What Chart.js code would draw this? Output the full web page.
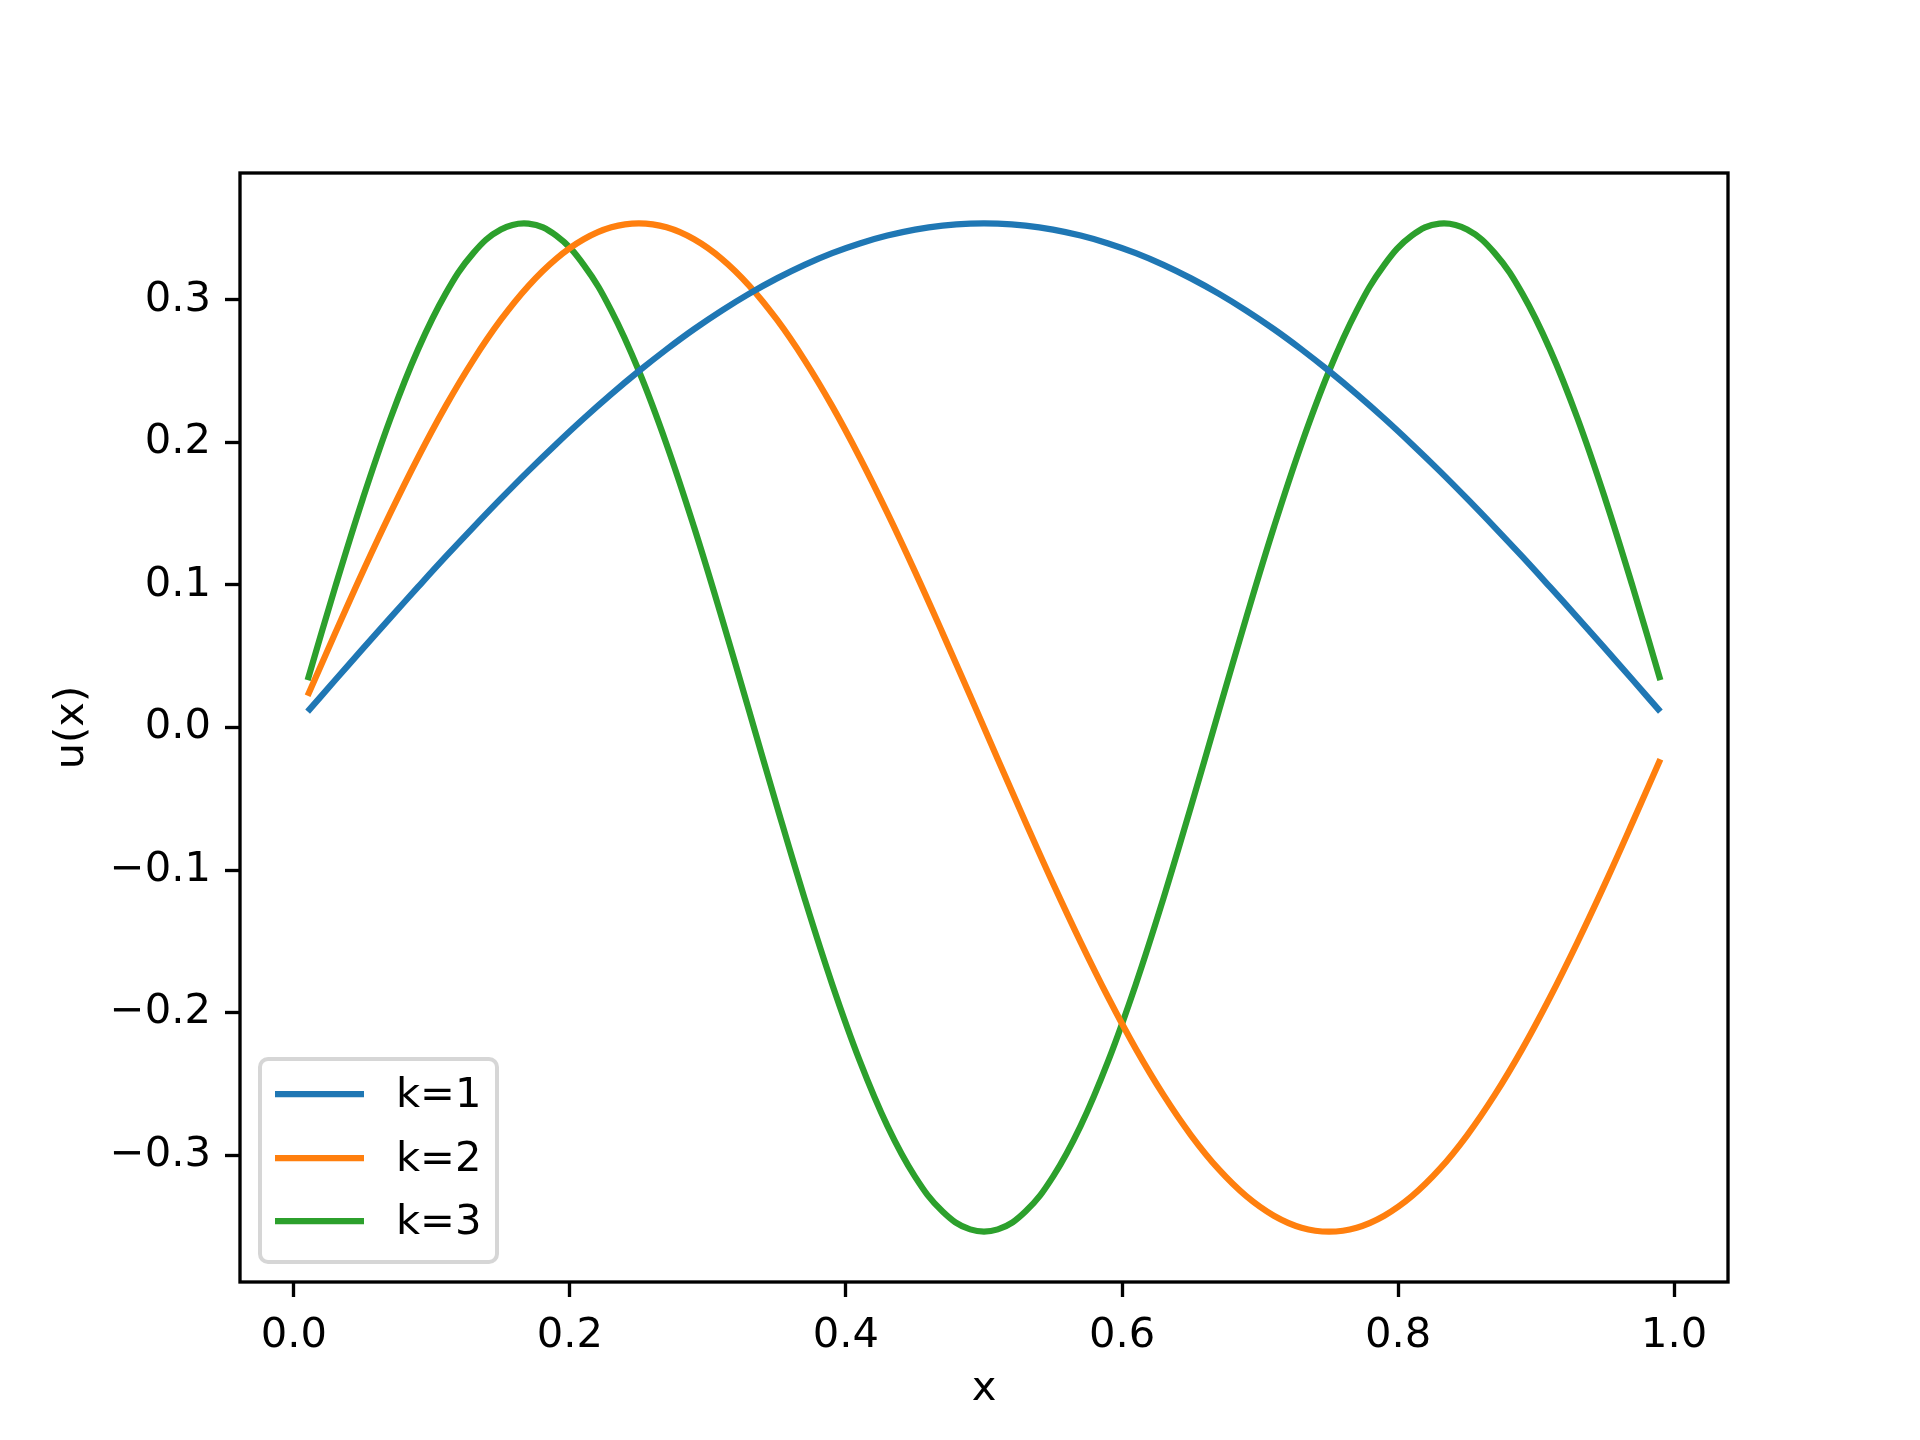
<!DOCTYPE html>
<html lang="en">
<head>
    <meta charset="UTF-8">
    <title>u(x)</title>
    <script src="https://cdn.jsdelivr.net/npm/chart.js"></script>
    <style>
        body { margin: 0; background: #fff; }
        canvas { display: block; }
    </style>
</head>
<body>
    <canvas id="waveChart" width="1920" height="1440"></canvas>

    <script>
        const xValues = [0.01, 0.03, 0.05, 0.07, 0.09, 0.11, 0.13, 0.15, 0.17, 0.19,
            0.21, 0.23, 0.25, 0.27, 0.29, 0.31, 0.33, 0.35, 0.37, 0.39,
            0.41, 0.43, 0.45, 0.47, 0.49, 0.51, 0.53, 0.55, 0.57, 0.59,
            0.61, 0.63, 0.65, 0.67, 0.69, 0.71, 0.73, 0.75, 0.77, 0.79,
            0.81, 0.83, 0.85, 0.87, 0.89, 0.91, 0.93, 0.95, 0.97, 0.99];

        const k1 = [0.0111, 0.0333, 0.0553, 0.0771, 0.0986, 0.1198, 0.1404, 0.1605, 0.1800, 0.1987,
            0.2167, 0.2338, 0.2500, 0.2652, 0.2794, 0.2924, 0.3043, 0.3150, 0.3245, 0.3327,
            0.3395, 0.3450, 0.3492, 0.3520, 0.3534, 0.3534, 0.3520, 0.3492, 0.3450, 0.3395,
            0.3327, 0.3245, 0.3150, 0.3043, 0.2924, 0.2794, 0.2652, 0.2500, 0.2338, 0.2167,
            0.1987, 0.1800, 0.1605, 0.1404, 0.1198, 0.0986, 0.0771, 0.0553, 0.0333, 0.0111];

        const k2 = [0.0222, 0.0662, 0.1093, 0.1505, 0.1894, 0.2254, 0.2577, 0.2860, 0.3098, 0.3287,
            0.3424, 0.3508, 0.3536, 0.3508, 0.3424, 0.3287, 0.3098, 0.2860, 0.2577, 0.2254,
            0.1894, 0.1505, 0.1093, 0.0662, 0.0222, -0.0222, -0.0662, -0.1093, -0.1505, -0.1894,
            -0.2254, -0.2577, -0.2860, -0.3098, -0.3287, -0.3424, -0.3508, -0.3536, -0.3508, -0.3424,
            -0.3287, -0.3098, -0.2860, -0.2577, -0.2254, -0.1894, -0.1505, -0.1093, -0.0662, -0.0222];

        const k3 = [0.0333, 0.0986, 0.1605, 0.2167, 0.2652, 0.3043, 0.3327, 0.3492, 0.3534, 0.3450,
            0.3245, 0.2924, 0.2500, 0.1987, 0.1404, 0.0771, 0.0111, -0.0553, -0.1198, -0.1800,
            -0.2338, -0.2794, -0.3150, -0.3395, -0.3520, -0.3520, -0.3395, -0.3150, -0.2794, -0.2338,
            -0.1800, -0.1198, -0.0553, 0.0111, 0.0771, 0.1404, 0.1987, 0.2500, 0.2924, 0.3245,
            0.3450, 0.3534, 0.3492, 0.3327, 0.3043, 0.2652, 0.2167, 0.1605, 0.0986, 0.0333];

        const seriesLabels = ['k=1', 'k=2', 'k=3'];
        const xTicks = [0.0, 0.2, 0.4, 0.6, 0.8, 1.0];
        const yTicks = [-0.3, -0.2, -0.1, 0.0, 0.1, 0.2, 0.3];

        const colors = ['#1f77b4', '#ff7f0e', '#2ca02c'];
        const fontPx = 41.67;
        const lw = 6.25;
        const spine = 3.33;

        Chart.defaults.font.family = '"DejaVu Sans", sans-serif';
        Chart.defaults.font.size = fontPx;
        Chart.defaults.color = '#000';

        const fmt = v => {
            const s = Math.abs(v) < 1e-9 ? '0.0' : v.toFixed(1);
            return s.replace('-', '\u2212');
        };

        const whiteBg = {
            id: 'whiteBg',
            beforeDraw(chart) {
                const ctx = chart.ctx;
                ctx.save();
                ctx.fillStyle = '#fff';
                ctx.fillRect(0, 0, chart.width, chart.height);
                ctx.restore();
            }
        };

        const frameAndLegend = {
            id: 'frameAndLegend',
            afterDatasetsDraw(chart) {
                const ctx = chart.ctx;
                const a = chart.chartArea;
                ctx.save();
                ctx.strokeStyle = '#000';
                ctx.lineWidth = spine;
                ctx.strokeRect(a.left, a.top, a.right - a.left, a.bottom - a.top);

                // legend box, lower left
                const bx = 260, by = 1059, bw = 237, bh = 203, r = 8;
                ctx.beginPath();
                ctx.roundRect(bx, by, bw, bh, r);
                ctx.fillStyle = 'rgba(255,255,255,0.8)';
                ctx.fill();
                ctx.lineWidth = 4;
                ctx.strokeStyle = 'rgba(204,204,204,0.8)';
                ctx.stroke();

                const rows = [1094, 1158, 1221];
                chart.data.datasets.forEach((ds, i) => {
                    ctx.beginPath();
                    ctx.moveTo(275, rows[i]);
                    ctx.lineTo(364, rows[i]);
                    ctx.strokeStyle = ds.borderColor;
                    ctx.lineWidth = lw;
                    ctx.stroke();
                    ctx.fillStyle = '#000';
                    ctx.font = fontPx + 'px "DejaVu Sans"';
                    ctx.textAlign = 'left';
                    ctx.textBaseline = 'middle';
                    ctx.fillText(ds.label, 396, rows[i] + 2);
                });
                ctx.restore();
            }
        };

        const series = [k1, k2, k3];
        const datasets = series.map((vals, i) => ({
            label: seriesLabels[i],
            data: xValues.map((x, j) => ({ x: x, y: vals[j] })),
            borderColor: colors[i],
            backgroundColor: colors[i],
            borderWidth: lw,
            pointRadius: 0,
            fill: false,
            tension: 0.4,
            borderJoinStyle: 'round'
        }));

        const axisCommon = {
            type: 'linear',
            grid: {
                drawOnChartArea: false,
                drawTicks: true,
                tickLength: 15,
                tickWidth: spine,
                tickColor: '#000'
            },
            border: { display: false },
            ticks: {
                color: '#000',
                font: { size: fontPx },
                padding: 14,
                autoSkip: false,
                maxRotation: 0,
                callback: v => fmt(v)
            }
        };

        const ctx = document.getElementById('waveChart').getContext('2d');
        const chart = new Chart(ctx, {
            type: 'line',
            data: { datasets: datasets },
            options: {
                responsive: false,
                animation: false,
                devicePixelRatio: 1,
                layout: { padding: { top: 173, right: 192, bottom: 0, left: 0 } },
                plugins: {
                    legend: { display: false },
                    tooltip: { enabled: false }
                },
                scales: {
                    x: {
                        ...axisCommon,
                        min: -0.039,
                        max: 1.039,
                        afterBuildTicks: s => { s.ticks = xTicks.map(v => ({ value: v })); },
                        afterFit: s => { s.height = 158; },
                        title: {
                            display: true,
                            text: 'x',
                            color: '#000',
                            font: { size: fontPx },
                            padding: { top: 0, bottom: 26 }
                        }
                    },
                    y: {
                        ...axisCommon,
                        min: -0.3889,
                        max: 0.3889,
                        afterBuildTicks: s => { s.ticks = yTicks.map(v => ({ value: v })); },
                        afterFit: s => { s.width = 240; },
                        title: {
                            display: true,
                            text: 'u(x)',
                            color: '#000',
                            font: { size: fontPx },
                            padding: { top: 47, bottom: 0 }
                        }
                    }
                }
            },
            plugins: [whiteBg, frameAndLegend]
        });
    </script>
</body>
</html>
